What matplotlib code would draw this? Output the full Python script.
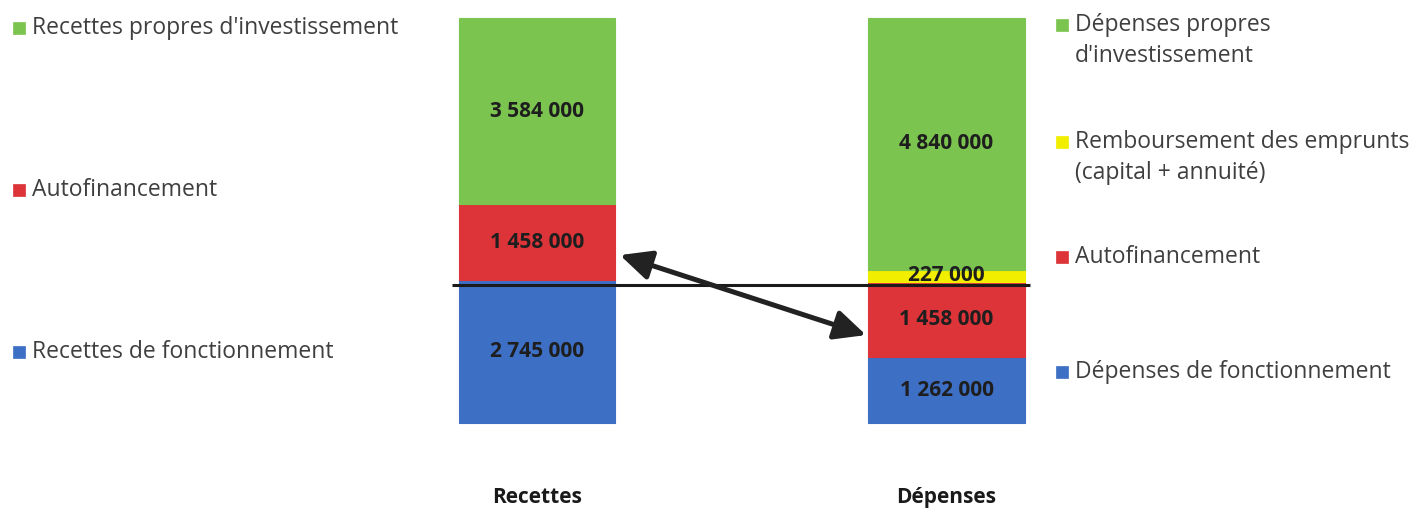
import matplotlib
matplotlib.use("Agg")
import matplotlib.pyplot as plt
from matplotlib.patches import Rectangle

# ---- data ----
categories = ["Recettes", "Dépenses"]
recettes_labels = ["Recettes de fonctionnement", "Autofinancement", "Recettes propres d'investissement"]
recettes_values = [2745000, 1458000, 3584000]
depenses_labels = ["Dépenses de fonctionnement", "Autofinancement",
                   "Remboursement des emprunts\n(capital + annuité)", "Dépenses propres\nd'investissement"]
depenses_values = [1262000, 1458000, 227000, 4840000]

# ---- styles ----
C_BLUE = "#3d6fc4"
C_RED = "#dc3439"
C_YELLOW = "#f2ee00"
C_GREEN = "#7cc450"
rec_colors = [C_BLUE, C_RED, C_GREEN]
dep_colors = [C_BLUE, C_RED, C_YELLOW, C_GREEN]
FONT = ["Open Sans", "DejaVu Sans"]
TXT = "#3f3f3f"

W, H = 1414, 511
fig = plt.figure(figsize=(W / 100, H / 100), dpi=100)
ax = fig.add_axes([0, 0, 1, 1])
ax.set_xlim(-1.3114, 2.1416)
ax.set_ylim(-1692000, 8134000)
ax.axis("off")

BAR_W = 0.383

def fmt(v):
    return f"{v:,}".replace(",", " ")

def stack(x, values, colors):
    bottom = 0
    for v, c in zip(values, colors):
        ax.bar(x, v, width=BAR_W, bottom=bottom, color=c, edgecolor=c, linewidth=0.8)
        ax.text(x, bottom + v / 2, fmt(v), ha="center", va="center", fontsize=15,
                fontweight="bold", color="#1e1e1e", family=FONT)
        bottom += v

stack(0, recettes_values, rec_colors)
stack(1, depenses_values, dep_colors)

# horizontal separation line (level between fonctionnement and investissement)
level = depenses_values[0] + depenses_values[1] - 60000
ax.plot([-0.208, 1.205], [level, level], color="#1a1a1a", lw=2.2, solid_capstyle="butt")

# double arrow between the two "Autofinancement" blocks
y_rec = recettes_values[0] + recettes_values[1] / 2 - 245000
y_dep = depenses_values[0] + depenses_values[1] / 2 - 300000
ax.annotate("", xy=(BAR_W / 2 + 0.011, y_rec), xytext=(1 - BAR_W / 2 - 0.005, y_dep),
            arrowprops=dict(arrowstyle="<|-|>,head_length=1.9,head_width=0.9",
                            color="#222222", lw=3.6, shrinkA=0, shrinkB=0))

# category labels
for i, cat in enumerate(categories):
    ax.text(i, -1440000, cat, ha="center", va="center", fontsize=15, fontweight="bold",
            color="#1a1a1a", family=FONT)

# ---- custom legends ----
MS = 12
LEG_FS = 16.5

def marker(px, py, color):
    fig.patches.append(Rectangle((px / W, 1 - (py + MS / 2) / H), MS / W, MS / H,
                                 transform=fig.transFigure, facecolor=color,
                                 edgecolor=color, lw=0.5))

def lines_at(tx, py, text, gap):
    for k, line in enumerate(text.split("\n")):
        fig.text(tx / W, 1 - (py + k * gap) / H, line, ha="left", va="center",
                 fontsize=LEG_FS, color=TXT, family=FONT)

left_y = [28, 190, 352]
for lab, col, y in zip(recettes_labels[::-1], rec_colors[::-1], left_y):
    marker(13, y, col)
    lines_at(32, y, lab, 31)

right_y = [25, 142, 257, 372]
for lab, col, y in zip(depenses_labels[::-1], dep_colors[::-1], right_y):
    marker(1056, y, col)
    lines_at(1075, y, lab, 31)

fig.savefig("out.png", dpi=100, facecolor="white")
